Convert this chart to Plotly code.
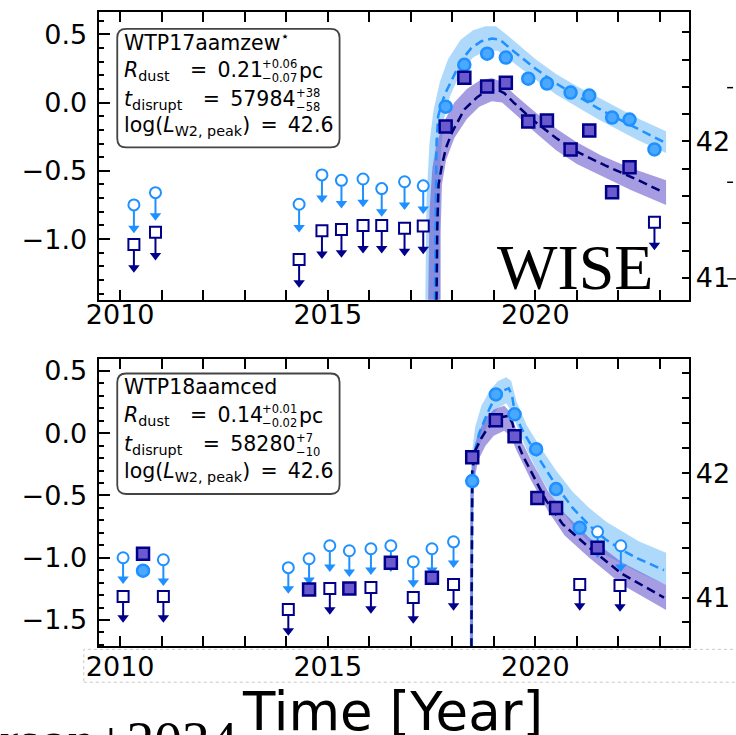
import plotly.graph_objects as go

W, H = 736, 735

# ---------------- data: top panel (WTP17aamzew) ----------------
t_w1_lim_x = [2010.33, 2010.85, 2014.31, 2014.86, 2015.33, 2015.85, 2016.30, 2016.85, 2017.30]
t_w1_lim_y = [-0.75, -0.66, -0.745, -0.53, -0.57, -0.56, -0.63, -0.58, -0.61]
t_w2_lim_x = [2010.33, 2010.85, 2014.31, 2014.86, 2015.33, 2015.85, 2016.30, 2016.85, 2017.30, 2022.87]
t_w2_lim_y = [-1.04, -0.95, -1.15, -0.94, -0.93, -0.90, -0.90, -0.92, -0.905, -0.876]
t_w1_x = [2017.84, 2018.29, 2018.84, 2019.29, 2019.83, 2020.28, 2020.85, 2021.30, 2021.85, 2022.27, 2022.87]
t_w1_y = [-0.03, 0.277, 0.358, 0.33, 0.175, 0.139, 0.073, 0.051, -0.11, -0.124, -0.343]
t_w2_x = [2017.84, 2018.29, 2018.84, 2019.29, 2019.83, 2020.28, 2020.85, 2021.30, 2021.85, 2022.27]
t_w2_y = [-0.175, 0.182, 0.117, 0.146, -0.139, -0.131, -0.343, -0.204, -0.657, -0.474]

# model
t_m1_x = [2017.58, 2017.60, 2017.62, 2017.66, 2017.75, 2017.85, 2018.00, 2018.22, 2018.46, 2018.70, 2018.96, 2019.15, 2019.50, 2020.00, 2020.50, 2021.00, 2021.50, 2022.00, 2022.50, 2023.10]
t_m1_y = [-1.45, -0.70, -0.30, -0.10, 0.00, 0.08, 0.17, 0.31, 0.40, 0.45, 0.47, 0.46, 0.37, 0.25, 0.14, 0.05, -0.04, -0.12, -0.20, -0.29]
t_m2_x = [2017.62, 2017.64, 2017.67, 2017.75, 2017.85, 2017.99, 2018.29, 2018.60, 2018.84, 2019.05, 2019.25, 2019.48, 2019.95, 2020.50, 2021.00, 2021.68, 2022.49, 2023.10]
t_m2_y = [-1.45, -0.90, -0.60, -0.46, -0.33, -0.22, -0.05, 0.04, 0.09, 0.10, 0.07, 0.00, -0.13, -0.26, -0.36, -0.46, -0.57, -0.66]
t_b1_up_x = [2017.35, 2017.38, 2017.45, 2017.55, 2017.70, 2017.90, 2018.20, 2018.50, 2018.80, 2019.05, 2019.30, 2019.60, 2020.00, 2020.50, 2021.00, 2021.50, 2022.00, 2022.50, 2023.15]
t_b1_up_y = [-1.45, -0.70, -0.30, -0.05, 0.15, 0.32, 0.46, 0.53, 0.56, 0.56, 0.50, 0.42, 0.32, 0.21, 0.12, 0.04, -0.04, -0.12, -0.21]
t_b1_lo_x = [2023.15, 2022.50, 2022.00, 2021.50, 2021.00, 2020.50, 2020.00, 2019.50, 2019.10, 2018.80, 2018.50, 2018.20, 2017.95, 2017.80, 2017.72, 2017.70, 2017.70]
t_b1_lo_y = [-0.37, -0.28, -0.20, -0.12, -0.03, 0.06, 0.17, 0.29, 0.38, 0.38, 0.33, 0.22, 0.05, -0.12, -0.40, -0.80, -1.45]
t_b2_up_x = [2017.42, 2017.45, 2017.52, 2017.62, 2017.80, 2018.05, 2018.35, 2018.65, 2018.95, 2019.20, 2019.50, 2020.00, 2020.50, 2021.00, 2021.60, 2022.30, 2023.15]
t_b2_up_y = [-1.45, -0.80, -0.48, -0.30, -0.14, 0.00, 0.10, 0.16, 0.18, 0.15, 0.06, -0.07, -0.19, -0.29, -0.39, -0.48, -0.57]
t_b2_lo_x = [2023.15, 2022.30, 2021.60, 2021.00, 2020.50, 2020.00, 2019.50, 2019.20, 2018.95, 2018.65, 2018.35, 2018.05, 2017.85, 2017.75, 2017.72, 2017.72]
t_b2_lo_y = [-0.75, -0.64, -0.54, -0.45, -0.35, -0.22, -0.08, 0.00, 0.01, -0.03, -0.12, -0.26, -0.42, -0.60, -0.95, -1.45]

# ---------------- data: bottom panel (WTP18aamced) ----------------
b_w1_lim_x = [2010.07, 2011.04, 2014.05, 2014.55, 2015.05, 2015.52, 2016.04, 2016.52, 2017.06, 2017.51, 2018.03, 2021.50, 2022.06]
b_w1_lim_y = [-1.00, -1.016, -1.08, -1.008, -0.904, -0.944, -0.928, -0.904, -1.032, -0.928, -0.872, -0.792, -0.904]
b_w2_lim_x = [2010.07, 2011.04, 2014.05, 2015.05, 2016.04, 2017.06, 2018.03, 2021.07, 2022.04]
b_w2_lim_y = [-1.312, -1.312, -1.416, -1.248, -1.24, -1.32, -1.216, -1.216, -1.224]
b_w1_x = [2010.55, 2018.48, 2019.05, 2019.50, 2020.02, 2020.50, 2021.07]
b_w1_y = [-1.104, -0.384, 0.312, 0.152, -0.128, -0.448, -0.76]
b_w2_x = [2010.55, 2014.55, 2015.52, 2016.52, 2017.51, 2018.48, 2019.05, 2019.50, 2020.05, 2020.50, 2021.50]
b_w2_y = [-0.968, -1.256, -1.248, -1.04, -1.16, -0.192, 0.104, -0.024, -0.52, -0.60, -0.92]

b_m1_x = [2018.46, 2018.47, 2018.49, 2018.53, 2018.65, 2018.77, 2018.90, 2019.05, 2019.20, 2019.36, 2019.44, 2019.50, 2019.65, 2019.80, 2020.12, 2020.50, 2020.90, 2021.30, 2021.68, 2022.10, 2022.49, 2023.10]
b_m1_y = [-1.72, -0.80, -0.40, -0.17, 0.00, 0.10, 0.20, 0.30, 0.34, 0.36, 0.30, 0.18, 0.05, -0.04, -0.22, -0.42, -0.60, -0.74, -0.85, -0.94, -1.01, -1.10]
b_m2_x = [2018.46, 2018.47, 2018.48, 2018.55, 2018.70, 2018.85, 2019.05, 2019.20, 2019.36, 2019.45, 2019.55, 2019.70, 2019.88, 2020.26, 2020.66, 2021.30, 2022.09, 2023.10]
b_m2_y = [-1.72, -0.70, -0.30, -0.14, -0.04, 0.04, 0.11, 0.13, 0.14, 0.08, -0.06, -0.18, -0.30, -0.54, -0.73, -0.92, -1.13, -1.32]
b_b1_up_x = [2018.42, 2018.43, 2018.46, 2018.55, 2018.70, 2018.90, 2019.10, 2019.30, 2019.42, 2019.55, 2019.80, 2020.10, 2020.50, 2020.90, 2021.30, 2021.70, 2022.50, 2023.15]
b_b1_up_y = [-1.72, -0.50, -0.20, 0.05, 0.22, 0.34, 0.42, 0.45, 0.42, 0.25, 0.06, -0.10, -0.30, -0.47, -0.60, -0.71, -0.87, -0.96]
b_b1_lo_x = [2023.15, 2022.50, 2021.70, 2021.30, 2020.90, 2020.50, 2020.10, 2019.80, 2019.55, 2019.42, 2019.30, 2019.10, 2018.90, 2018.70, 2018.55, 2018.50, 2018.50]
b_b1_lo_y = [-1.22, -1.12, -0.98, -0.88, -0.74, -0.56, -0.34, -0.14, 0.06, 0.18, 0.24, 0.20, 0.10, -0.05, -0.25, -0.60, -1.72]
b_b2_up_x = [2018.43, 2018.44, 2018.50, 2018.62, 2018.80, 2019.00, 2019.25, 2019.40, 2019.55, 2019.90, 2020.30, 2020.70, 2021.30, 2022.10, 2023.15]
b_b2_up_y = [-1.72, -0.45, -0.15, 0.00, 0.12, 0.19, 0.22, 0.17, 0.02, -0.22, -0.46, -0.64, -0.84, -1.04, -1.22]
b_b2_lo_x = [2023.15, 2022.10, 2021.30, 2020.70, 2020.30, 2019.90, 2019.55, 2019.40, 2019.25, 2019.00, 2018.80, 2018.62, 2018.52, 2018.50, 2018.50]
b_b2_lo_y = [-1.42, -1.22, -1.00, -0.82, -0.62, -0.38, -0.14, -0.02, 0.02, -0.02, -0.10, -0.22, -0.40, -0.80, -1.72]

x_ticks = [2010, 2015, 2020]

# ---------------- style ----------------
C_W1 = "#1E90FF"
C_W1_FILL = "#4aa8ff"
C_W2 = "#00008B"
C_W2_FILL = "#6A5ACD"
C_BAND1 = "rgba(110,185,245,0.55)"
C_BAND2 = "rgba(106,90,205,0.60)"
ARROW = 0.2
FONT = "DejaVu Sans"


def PX(x):
    return x / W


def PY(y):
    return 1 - y / H


fig = go.Figure()


def add_panel(xa, ya, ya_r, w1lx, w1ly, w2lx, w2ly, w1x, w1y, w2x, w2y,
              m1x, m1y, m2x, m2y, b1ux, b1uy, b1lx, b1ly, b2ux, b2uy, b2lx, b2ly):
    kw = dict(xaxis=xa, yaxis=ya, showlegend=False, hoverinfo="skip")
    fig.add_trace(go.Scatter(x=b1ux + b1lx, y=b1uy + b1ly, fill="toself", mode="lines",
                             line=dict(width=0), fillcolor=C_BAND1, **kw))
    fig.add_trace(go.Scatter(x=b2ux + b2lx, y=b2uy + b2ly, fill="toself", mode="lines",
                             line=dict(width=0), fillcolor=C_BAND2, **kw))
    fig.add_trace(go.Scatter(x=m1x, y=m1y, mode="lines",
                             line=dict(color=C_W1, width=2.5, dash="9px,5px"), **kw))
    fig.add_trace(go.Scatter(x=m2x, y=m2y, mode="lines",
                             line=dict(color="#000070", width=2.5, dash="9px,5px"), **kw))

    for lx, ly, col in ((w1lx, w1ly, C_W1), (w2lx, w2ly, C_W2)):
        sx, sy = [], []
        for a, b in zip(lx, ly):
            sx += [a, a, None]
            sy += [b, b - ARROW * 0.85, None]
        fig.add_trace(go.Scatter(x=sx, y=sy, mode="lines", line=dict(color=col, width=2), **kw))
        fig.add_trace(go.Scatter(x=lx, y=[v - ARROW * 0.85 for v in ly], mode="markers",
                                 marker=dict(symbol="triangle-down", size=10, color=col,
                                             line=dict(width=0)), **kw))
    fig.add_trace(go.Scatter(x=w1lx, y=w1ly, mode="markers",
                             marker=dict(symbol="circle", size=11, color="white",
                                         line=dict(color=C_W1, width=2)), **kw))
    fig.add_trace(go.Scatter(x=w2lx, y=w2ly, mode="markers",
                             marker=dict(symbol="square", size=11, color="white",
                                         line=dict(color=C_W2, width=2)), **kw))
    fig.add_trace(go.Scatter(x=w1x, y=w1y, mode="markers",
                             marker=dict(symbol="circle", size=12, color=C_W1_FILL,
                                         line=dict(color=C_W1, width=2.5)), **kw))
    fig.add_trace(go.Scatter(x=w2x, y=w2y, mode="markers",
                             marker=dict(symbol="square", size=12, color=C_W2_FILL,
                                         line=dict(color=C_W2, width=2.5)), **kw))
    fig.add_trace(go.Scatter(x=[None], y=[None], xaxis=xa, yaxis=ya_r, showlegend=False))


add_panel("x", "y", "y2", t_w1_lim_x, t_w1_lim_y, t_w2_lim_x, t_w2_lim_y, t_w1_x, t_w1_y, t_w2_x, t_w2_y,
          t_m1_x, t_m1_y, t_m2_x, t_m2_y, t_b1_up_x, t_b1_up_y, t_b1_lo_x, t_b1_lo_y,
          t_b2_up_x, t_b2_up_y, t_b2_lo_x, t_b2_lo_y)
add_panel("x2", "y3", "y4", b_w1_lim_x, b_w1_lim_y, b_w2_lim_x, b_w2_lim_y, b_w1_x, b_w1_y, b_w2_x, b_w2_y,
          b_m1_x, b_m1_y, b_m2_x, b_m2_y, b_b1_up_x, b_b1_up_y, b_b1_lo_x, b_b1_lo_y,
          b_b2_up_x, b_b2_up_y, b_b2_lo_x, b_b2_lo_y)

XDOM = [PX(88), PX(688)]
XRANGE = [2009.479, 2023.697]
tickfont = dict(family=FONT, size=27, color="black")


def xaxis(anchor, standoff):
    return dict(domain=XDOM, anchor=anchor, range=XRANGE, tickmode="array", tickvals=x_ticks,
                ticks="inside", ticklen=10, tickwidth=1.5, tickcolor="black",
                minor=dict(tickmode="linear", tick0=2010, dtick=1, ticks="inside", ticklen=5,
                           tickwidth=1.5, tickcolor="black", showgrid=False),
                mirror="allticks", showline=True, linewidth=2, linecolor="black",
                showgrid=False, zeroline=False, tickfont=tickfont, ticklabelstandoff=standoff)


def yaxis(dom, rng, anchor):
    return dict(domain=dom, anchor=anchor, range=rng, tickmode="linear", tick0=0, dtick=0.5,
                tickformat=".1f", ticks="inside", ticklen=11, tickwidth=1.5, tickcolor="black",
                minor=dict(tickmode="linear", tick0=0, dtick=0.1, ticks="inside", ticklen=5,
                           tickwidth=1.5, tickcolor="black", showgrid=False),
                mirror=True, showline=True, linewidth=2, linecolor="black",
                showgrid=False, zeroline=False, tickfont=tickfont, ticklabelstandoff=4)


def yaxis_r(over, rng, anchor):
    return dict(overlaying=over, side="right", anchor=anchor, range=rng, tickmode="linear",
                tick0=41, dtick=1, ticks="inside", ticklen=7, tickwidth=1.5, tickcolor="black",
                minor=dict(tickmode="linear", tick0=41, dtick=0.2, ticks="inside", ticklen=7,
                           tickwidth=1.5, tickcolor="black", showgrid=False),
                showline=False, showgrid=False, zeroline=False, tickfont=tickfont,
                ticklabelstandoff=6)


TOP_RNG = [-1.445, 0.664]
BOT_RNG = [-1.712, 0.600]

fig.update_layout(
    width=W, height=H, margin=dict(l=0, r=0, t=0, b=0),
    paper_bgcolor="white", plot_bgcolor="white",
    xaxis=xaxis("y", -10),
    yaxis=yaxis([PY(298), PY(9)], TOP_RNG, "x"),
    yaxis2=yaxis_r("y", [TOP_RNG[0] + 42.285, TOP_RNG[1] + 42.285], "x"),
    xaxis2=xaxis("y3", -5),
    yaxis3=yaxis([PY(646), PY(357)], BOT_RNG, "x2"),
    yaxis4=yaxis_r("y3", [BOT_RNG[0] + 42.32, BOT_RNG[1] + 42.32], "x2"),
)


def rbox(x0, y0, x1, y1, r):
    pts = [("M", x0 + r, y0), ("L", x1 - r, y0), ("Q", x1, y0, x1, y0 + r), ("L", x1, y1 - r),
           ("Q", x1, y1, x1 - r, y1), ("L", x0 + r, y1), ("Q", x0, y1, x0, y1 - r),
           ("L", x0, y0 + r), ("Q", x0, y0, x0 + r, y0)]
    s = ""
    for p in pts:
        cmd = p[0]
        coords = p[1:]
        parts = []
        for i in range(0, len(coords), 2):
            parts.append(f"{PX(coords[i]):.5f},{PY(coords[i+1]):.5f}")
        s += cmd + " " + " ".join(parts) + " "
    return s + "Z"


shapes = []
for (y0, y1) in ((26, 145), (372, 493)):
    shapes.append(dict(type="path", xref="paper", yref="paper", path=rbox(107, y0, 333, y1, 9),
                       line=dict(color="#444444", width=1.8), fillcolor="rgba(255,255,255,0.85)",
                       layer="above"))
shapes.append(dict(type="rect", xref="paper", yref="paper", x0=PX(73), x1=PX(740), y0=PY(682), y1=PY(649),
                   line=dict(color="#c8c8c8", width=1, dash="dot")))
for yy in (85, 180):
    shapes.append(dict(type="line", xref="paper", yref="paper", x0=PX(727), x1=PX(733), y0=PY(yy), y1=PY(yy),
                       line=dict(color="black", width=1.5)))
shapes.append(dict(type="line", xref="paper", yref="paper", x0=PX(727), x1=PX(736), y0=PY(277), y1=PY(277),
                   line=dict(color="black", width=1.5)))
fig.update_layout(shapes=shapes)

ann = []


def text(x, y, s, size=20.5, anchor="left", family=FONT, yanchor="middle"):
    ann.append(dict(x=PX(x), y=PY(y), xref="paper", yref="paper", text=s, showarrow=False,
                    xanchor=anchor, yanchor=yanchor, font=dict(family=family, size=size, color="black")))


EQ = "\u2003=\u2002"
EQ4 = "\u2002=\u2002"
MINUS = "\u2212"
SS = 11.5
for (y0, name, rd, rp, rm, td, tp, tm) in (
        (0, "WTP17aamzew<sup>\u22c6</sup>", "0.21", "+0.06", MINUS + "0.07", "57984", "+38", MINUS + "58"),
        (347, "WTP18aamced", "0.14", "+0.01", MINUS + "0.02", "58280", "+7", MINUS + "10")):
    text(112, y0 + 39, name)
    text(112, y0 + 68, "<i>R</i><sub>dust</sub>" + EQ + rd)
    text(252, y0 + 61, rp, size=SS)
    text(252, y0 + 75, rm, size=SS)
    text(290, y0 + 68, "pc")
    text(112, y0 + 97, "<i>t</i><sub>disrupt</sub>" + EQ + td)
    text(287, y0 + 90, tp, size=SS)
    text(287, y0 + 104, tm, size=SS)
    text(112, y0 + 124, "log(<i>L</i><sub>W2, peak</sub>)" + EQ4 + "42.6")

text(572, 266, "WISE", size=64, anchor="center", family="Liberation Serif")
text(387, 711, "Time [Year]", size=53, anchor="center")
text(232, 741, "Masterson+2024", size=55.5, anchor="right", family="Liberation Serif")

fig.update_layout(annotations=ann)

fig.write_html("out.html")
